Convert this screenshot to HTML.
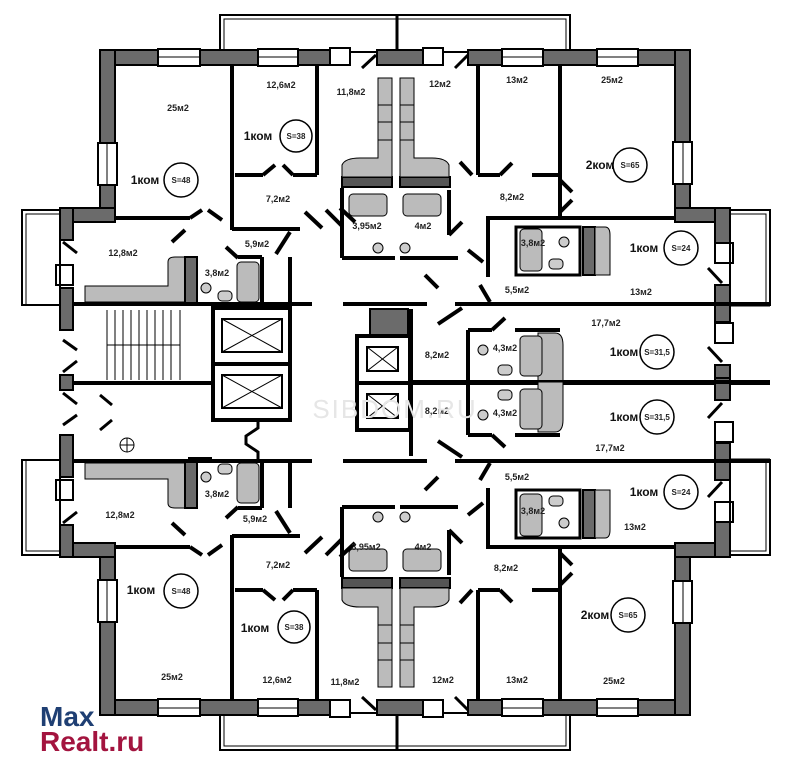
<!DOCTYPE html>
<html><head><meta charset="utf-8"><style>
html,body{margin:0;padding:0;background:#fff;width:800px;height:775px;overflow:hidden}
svg{display:block}
.t{font-family:"Liberation Sans",sans-serif;font-size:9px;font-weight:bold;fill:#222;text-anchor:middle}
.k{font-family:"Liberation Sans",sans-serif;font-size:12px;font-weight:bold;fill:#111;text-anchor:middle}
.s{font-family:"Liberation Sans",sans-serif;font-size:8px;font-weight:bold;fill:#222;text-anchor:middle}
</style></head><body>
<svg width="800" height="775" viewBox="0 0 800 775" xmlns="http://www.w3.org/2000/svg">
<defs>
<g id="half" stroke="#000" stroke-width="2">
  <rect x="220" y="15" width="350" height="37" fill="none" stroke-width="2"/>
  <rect x="224" y="19" width="342" height="33" fill="none" stroke-width="1"/>
  <line x1="397" y1="15" x2="397" y2="52" stroke-width="3"/>
  <rect x="100" y="50" width="250" height="15" fill="#6b6b6b"/>
  <rect x="377" y="50" width="66" height="15" fill="#6b6b6b"/>
  <rect x="468" y="50" width="222" height="15" fill="#6b6b6b"/>
  <rect x="158" y="49" width="42" height="17" fill="#fff"/>
  <line x1="158" y1="57" x2="200" y2="57" stroke-width="1"/>
  <rect x="258" y="49" width="40" height="17" fill="#fff"/>
  <line x1="258" y1="57" x2="298" y2="57" stroke-width="1"/>
  <rect x="330" y="48" width="20" height="17" fill="#fff"/>
  <rect x="423" y="48" width="20" height="17" fill="#fff"/>
  <rect x="502" y="49" width="41" height="17" fill="#fff"/>
  <line x1="502" y1="57" x2="543" y2="57" stroke-width="1"/>
  <rect x="597" y="49" width="41" height="17" fill="#fff"/>
  <line x1="597" y1="57" x2="638" y2="57" stroke-width="1"/>
  <line x1="362" y1="68" x2="376" y2="55" stroke-width="3"/>
  <line x1="455" y1="68" x2="468" y2="55" stroke-width="3"/>
  <rect x="100" y="50" width="15" height="170" fill="#6b6b6b"/>
  <rect x="98" y="143" width="19" height="42" fill="#fff"/>
  <line x1="107" y1="143" x2="107" y2="185" stroke-width="1"/>
  <rect x="60" y="208" width="55" height="14" fill="#6b6b6b"/>
  <rect x="60" y="208" width="13" height="32" fill="#6b6b6b"/>
  <rect x="56" y="265" width="17" height="20" fill="#fff"/>
  <rect x="60" y="288" width="13" height="42" fill="#6b6b6b"/>
  <rect x="60" y="375" width="13" height="15" fill="#6b6b6b"/>
  <line x1="63" y1="242" x2="77" y2="253" stroke-width="3"/>
  <line x1="63" y1="340" x2="77" y2="350" stroke-width="3"/>
  <line x1="63" y1="372" x2="77" y2="361" stroke-width="3"/>
  <rect x="22" y="210" width="38" height="95" fill="none"/>
  <rect x="26" y="214" width="34" height="91" fill="none" stroke-width="1"/>
  <rect x="675" y="50" width="15" height="170" fill="#6b6b6b"/>
  <rect x="673" y="142" width="19" height="42" fill="#fff"/>
  <line x1="683" y1="142" x2="683" y2="184" stroke-width="1"/>
  <rect x="675" y="208" width="55" height="14" fill="#6b6b6b"/>
  <rect x="715" y="208" width="15" height="35" fill="#6b6b6b"/>
  <rect x="715" y="243" width="18" height="20" fill="#fff"/>
  <rect x="715" y="285" width="15" height="37" fill="#6b6b6b"/>
  <rect x="715" y="323" width="18" height="20" fill="#fff"/>
  <rect x="715" y="365" width="15" height="22" fill="#6b6b6b"/>
  <line x1="708" y1="268" x2="722" y2="283" stroke-width="3"/>
  <line x1="708" y1="347" x2="722" y2="362" stroke-width="3"/>
  <rect x="730" y="210" width="40" height="95" fill="none"/>
  <rect x="730" y="214" width="36" height="91" fill="none" stroke-width="1"/>
  <line x1="730" y1="305" x2="770" y2="305" stroke-width="3"/>
  <g stroke-width="4" fill="none">
    <line x1="115" y1="218" x2="190" y2="218"/>
    <line x1="190" y1="218" x2="202" y2="210"/>
    <line x1="208" y1="210" x2="222" y2="220"/>
    <line x1="232" y1="65" x2="232" y2="230"/>
    <line x1="235" y1="175" x2="263" y2="175"/><line x1="263" y1="175" x2="275" y2="165"/>
    <line x1="283" y1="165" x2="293" y2="175"/><line x1="293" y1="175" x2="317" y2="175"/>
    <line x1="317" y1="65" x2="317" y2="175"/>
    <line x1="232" y1="229" x2="300" y2="229"/>
    <line x1="185" y1="230" x2="172" y2="242"/>
    <line x1="305" y1="212" x2="322" y2="228"/><line x1="326" y1="210" x2="342" y2="226"/>
    <line x1="290" y1="232" x2="276" y2="254"/>
    <line x1="226" y1="247" x2="238" y2="258"/>
    <line x1="342" y1="188" x2="342" y2="258"/>
    <line x1="342" y1="258" x2="395" y2="258"/>
    <line x1="400" y1="258" x2="458" y2="258"/>
    <line x1="449" y1="190" x2="449" y2="235"/>
    <line x1="449" y1="235" x2="462" y2="222"/>
    <line x1="478" y1="65" x2="478" y2="175"/>
    <line x1="460" y1="162" x2="472" y2="175"/>
    <line x1="478" y1="175" x2="500" y2="175"/><line x1="500" y1="175" x2="512" y2="163"/>
    <line x1="532" y1="175" x2="560" y2="175"/>
    <line x1="560" y1="65" x2="560" y2="218"/>
    <line x1="560" y1="180" x2="572" y2="192"/><line x1="572" y1="200" x2="560" y2="212"/>
    <line x1="486" y1="218" x2="675" y2="218"/>
    <line x1="488" y1="218" x2="488" y2="277"/>
    <line x1="468" y1="250" x2="483" y2="262"/>
    <line x1="480" y1="285" x2="490" y2="302"/>
    <line x1="455" y1="304" x2="770" y2="304"/>
    <line x1="73" y1="304" x2="312" y2="304"/>
    <line x1="262" y1="257" x2="262" y2="302"/>
    <line x1="290" y1="257" x2="290" y2="302"/>
    <line x1="238" y1="257" x2="262" y2="257"/>
    <line x1="343" y1="304" x2="427" y2="304"/>
    <line x1="411" y1="309" x2="411" y2="383"/>
    <line x1="411" y1="383" x2="770" y2="383"/>
    <line x1="468" y1="330" x2="468" y2="383"/>
    <line x1="468" y1="330" x2="492" y2="330"/><line x1="492" y1="330" x2="505" y2="318"/>
    <line x1="515" y1="330" x2="560" y2="330"/>
    <line x1="462" y1="308" x2="438" y2="324"/>
    <line x1="425" y1="275" x2="438" y2="288"/>
    <line x1="340" y1="208" x2="355" y2="222"/>
  </g>
  <rect x="342" y="177" width="50" height="10" fill="#555"/>
  <rect x="400" y="177" width="50" height="10" fill="#555"/>
  <path d="M342 177 L342 165 Q345 158 360 158 L378 158 L378 78 L392 78 L392 177 Z" fill="#bbb" stroke-width="1"/>
  <path d="M449 177 L449 165 Q446 158 432 158 L414 158 L414 78 L400 78 L400 177 Z" fill="#bbb" stroke-width="1"/>
  <line x1="378" y1="105" x2="392" y2="105" stroke-width="1"/><line x1="378" y1="122" x2="392" y2="122" stroke-width="1"/><line x1="378" y1="140" x2="392" y2="140" stroke-width="1"/>
  <line x1="400" y1="105" x2="414" y2="105" stroke-width="1"/><line x1="400" y1="122" x2="414" y2="122" stroke-width="1"/><line x1="400" y1="140" x2="414" y2="140" stroke-width="1"/>
  <rect x="349" y="194" width="38" height="22" rx="4" fill="#bbb" stroke-width="1"/>
  <rect x="403" y="194" width="38" height="22" rx="4" fill="#bbb" stroke-width="1"/>
  <circle cx="378" cy="248" r="5" fill="#ccc" stroke-width="1"/>
  <circle cx="405" cy="248" r="5" fill="#ccc" stroke-width="1"/>
  <path d="M85 302 L85 286 L168 286 L168 262 Q168 257 175 257 L185 257 L185 302 Z" fill="#bbb" stroke-width="1"/>
  <rect x="185" y="257" width="12" height="46" fill="#6b6b6b"/>
  <rect x="237" y="262" width="22" height="40" rx="4" fill="#bbb" stroke-width="1"/>
  <circle cx="206" cy="288" r="5" fill="#ccc" stroke-width="1"/>
  <rect x="218" y="291" width="14" height="10" rx="4" fill="#ccc" stroke-width="1"/>
  <rect x="516" y="227" width="64" height="48" fill="none" stroke-width="3"/>
  <rect x="520" y="229" width="22" height="42" rx="4" fill="#bbb" stroke-width="1"/>
  <circle cx="564" cy="242" r="5" fill="#ccc" stroke-width="1"/>
  <rect x="549" y="259" width="14" height="10" rx="4" fill="#ccc" stroke-width="1"/>
  <rect x="583" y="227" width="12" height="48" fill="#6b6b6b"/>
  <path d="M595 227 L605 227 Q610 227 610 235 L610 275 L595 275 Z" fill="#bbb" stroke-width="1"/>
  <path d="M538 333 L555 333 Q563 333 563 345 L563 383 L538 383 Z" fill="#bbb" stroke-width="1"/>
  <rect x="520" y="336" width="22" height="40" rx="4" fill="#bbb" stroke-width="1"/>
  <circle cx="483" cy="350" r="5" fill="#ccc" stroke-width="1"/>
  <rect x="498" y="365" width="14" height="10" rx="4" fill="#ccc" stroke-width="1"/>
</g>
</defs>
<use href="#half"/>
<use href="#half" transform="matrix(1,0,0,-1,0,765)"/>

<!-- center elevator block (not mirrored) -->
<g stroke="#000" fill="none">
  <rect x="370" y="309" width="38" height="26" fill="#6b6b6b" stroke-width="2"/>
  <rect x="357" y="336" width="53" height="94" fill="#fff" stroke-width="4"/>
  <line x1="357" y1="383" x2="411" y2="383" stroke-width="4"/>
  <rect x="367" y="347" width="31" height="24" stroke-width="2"/>
  <line x1="367" y1="347" x2="398" y2="371" stroke-width="1"/><line x1="398" y1="347" x2="367" y2="371" stroke-width="1"/>
  <rect x="367" y="394" width="31" height="24" stroke-width="2"/>
  <line x1="367" y1="394" x2="398" y2="418" stroke-width="1"/><line x1="398" y1="394" x2="367" y2="418" stroke-width="1"/>
</g>

<g stroke="#000" fill="none">
  <g stroke-width="1">
    <line x1="107" y1="310" x2="107" y2="380"/><line x1="115" y1="310" x2="115" y2="380"/>
    <line x1="123" y1="310" x2="123" y2="380"/><line x1="131" y1="310" x2="131" y2="380"/>
    <line x1="139" y1="310" x2="139" y2="380"/><line x1="147" y1="310" x2="147" y2="380"/>
    <line x1="155" y1="310" x2="155" y2="380"/><line x1="163" y1="310" x2="163" y2="380"/>
    <line x1="171" y1="310" x2="171" y2="380"/><line x1="180" y1="310" x2="180" y2="380"/>
    <line x1="107" y1="345" x2="180" y2="345"/>
  </g>
  <line x1="73" y1="383" x2="213" y2="383" stroke-width="4"/>
  <rect x="213" y="308" width="77" height="112" stroke-width="4"/>
  <line x1="213" y1="364" x2="290" y2="364" stroke-width="4"/>
  <rect x="222" y="319" width="60" height="33" stroke-width="2"/>
  <line x1="222" y1="319" x2="282" y2="352" stroke-width="1"/><line x1="282" y1="319" x2="222" y2="352"/>
  <rect x="222" y="375" width="60" height="33" stroke-width="2"/>
  <line x1="222" y1="375" x2="282" y2="408" stroke-width="1"/><line x1="282" y1="375" x2="222" y2="408"/>
  <path d="M258 420 L258 428 L246 436 L246 444 L258 452 L258 460" stroke-width="3"/>
  <circle cx="127" cy="445" r="7" stroke-width="1"/>
  <line x1="120" y1="445" x2="134" y2="445" stroke-width="1"/><line x1="127" y1="438" x2="127" y2="452" stroke-width="1"/>
  <line x1="100" y1="395" x2="112" y2="405" stroke-width="3"/>
  <line x1="100" y1="430" x2="112" y2="420" stroke-width="3"/>
</g>
<rect x="188" y="457" width="24" height="6" fill="#000"/>

<g class="t">
<text x="178" y="111">25м2</text><text x="281" y="88">12,6м2</text><text x="351" y="95">11,8м2</text>
<text x="440" y="87">12м2</text><text x="517" y="83">13м2</text><text x="612" y="83">25м2</text>
<text x="278" y="202">7,2м2</text><text x="512" y="200">8,2м2</text><text x="367" y="229">3,95м2</text><text x="423" y="229">4м2</text>
<text x="123" y="256">12,8м2</text><text x="257" y="247">5,9м2</text><text x="217" y="276">3,8м2</text><text x="533" y="246">3,8м2</text>
<text x="517" y="293">5,5м2</text><text x="641" y="295">13м2</text><text x="606" y="326">17,7м2</text>
<text x="437" y="358">8,2м2</text><text x="505" y="351">4,3м2</text>
<text x="437" y="414">8,2м2</text><text x="505" y="416">4,3м2</text><text x="610" y="451">17,7м2</text>
<text x="517" y="480">5,5м2</text><text x="533" y="514">3,8м2</text><text x="635" y="530">13м2</text>
<text x="506" y="571">8,2м2</text><text x="517" y="683">13м2</text><text x="614" y="684">25м2</text><text x="443" y="683">12м2</text>
<text x="345" y="685">11,8м2</text><text x="277" y="683">12,6м2</text><text x="172" y="680">25м2</text>
<text x="278" y="568">7,2м2</text><text x="366" y="550">3,95м2</text><text x="423" y="550">4м2</text>
<text x="120" y="518">12,8м2</text><text x="255" y="522">5,9м2</text><text x="217" y="497">3,8м2</text>
</g>
<g class="k">
<text x="145" y="184">1ком</text><text x="258" y="140">1ком</text><text x="600" y="169">2ком</text>
<text x="644" y="252">1ком</text><text x="624" y="356">1ком</text><text x="624" y="421">1ком</text>
<text x="644" y="496">1ком</text><text x="595" y="619">2ком</text><text x="141" y="594">1ком</text><text x="255" y="632">1ком</text>
</g>
<g fill="none" stroke="#000" stroke-width="1.5">
<circle cx="181" cy="180" r="17"/><circle cx="296" cy="136" r="16"/><circle cx="630" cy="165" r="17"/>
<circle cx="681" cy="248" r="17"/><circle cx="657" cy="352" r="17"/><circle cx="657" cy="417" r="17"/>
<circle cx="681" cy="492" r="17"/><circle cx="628" cy="615" r="17"/><circle cx="181" cy="591" r="17"/><circle cx="294" cy="627" r="16"/>
</g>
<g class="s">
<text x="181" y="183">S=48</text><text x="296" y="139">S=38</text><text x="630" y="168">S=65</text>
<text x="681" y="251">S=24</text><text x="657" y="355">S=31,5</text><text x="657" y="420">S=31,5</text>
<text x="681" y="495">S=24</text><text x="628" y="618">S=65</text><text x="181" y="594">S=48</text><text x="294" y="630">S=38</text>
</g>
<text x="395" y="418" font-family="Liberation Sans,sans-serif" font-size="26" fill="#e6e6e6" text-anchor="middle" letter-spacing="2">SIBDOM.RU</text>
<text x="40" y="726" font-family="Liberation Sans,sans-serif" font-size="28" font-weight="bold" fill="#1f3f73">Max</text>
<text x="40" y="751" font-family="Liberation Sans,sans-serif" font-size="28" font-weight="bold" fill="#a3143f">Realt.ru</text>
</svg>
</body></html>
